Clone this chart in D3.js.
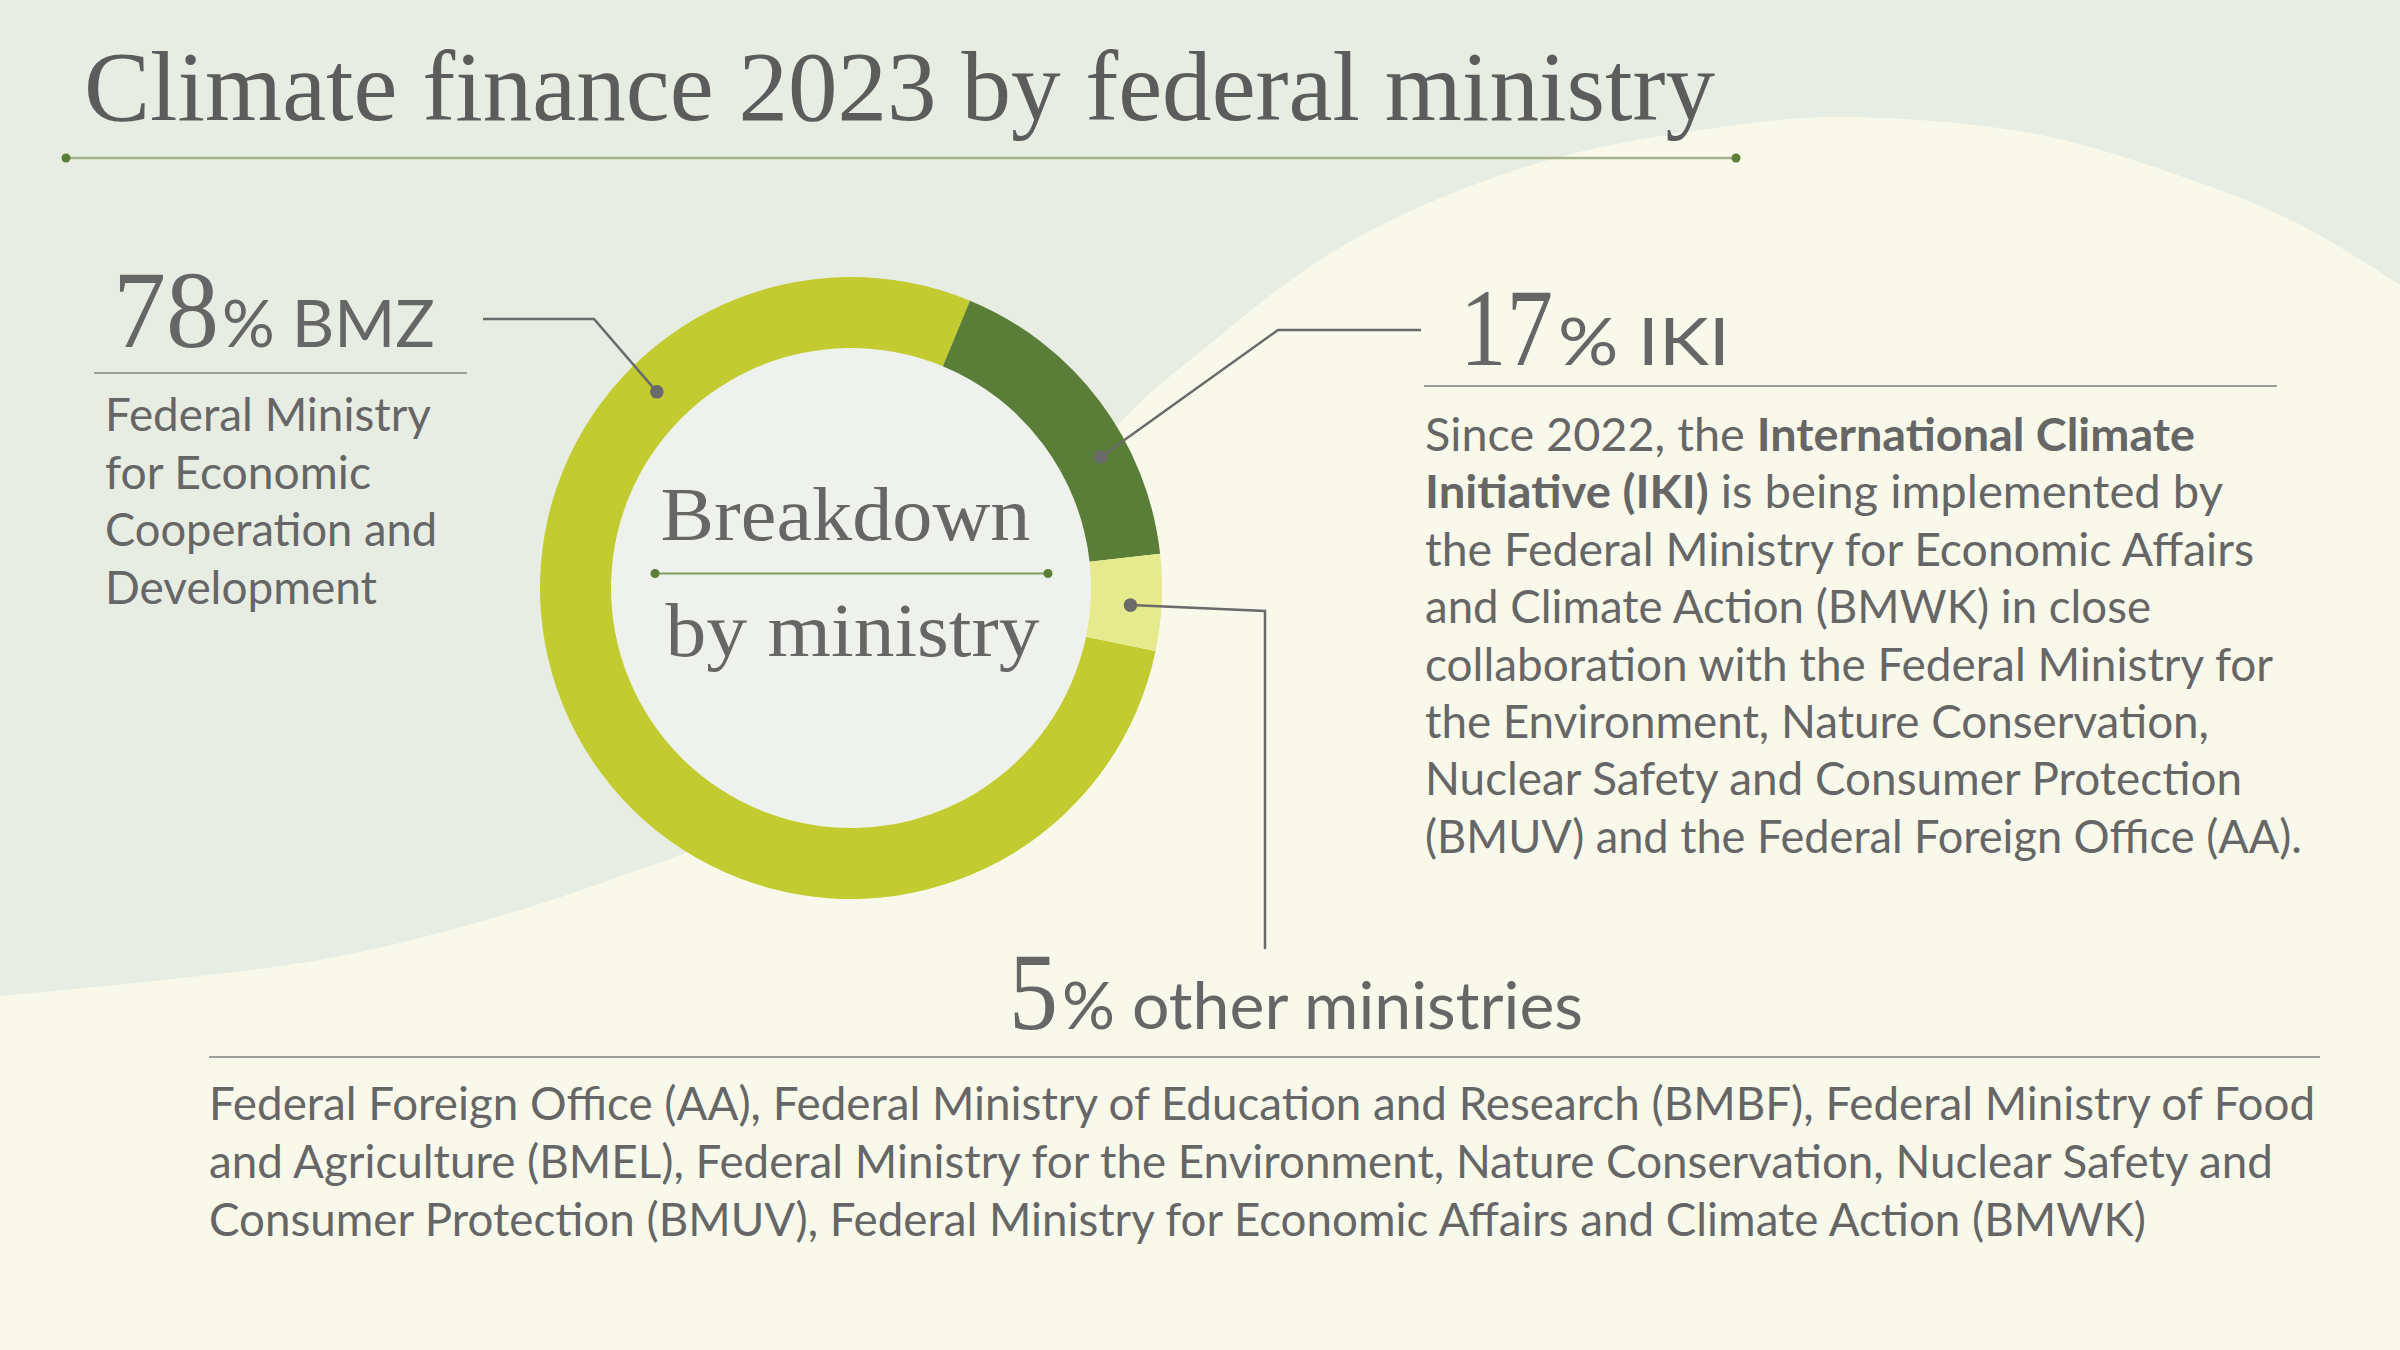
<!DOCTYPE html>
<html><head><meta charset="utf-8">
<script src="https://cdn.jsdelivr.net/npm/d3@7"></script>
<style>body{margin:0;background:#e7ede3}svg{display:block}</style>
</head><body><svg id="c" width="2400" height="1350"></svg>
<script>
// ---------- data ----------
const title = "Climate finance 2023 by federal ministry";
const ministries = ["BMZ", "IKI", "other ministries"];
const shares = [78, 17, 5];
const pctLabels = ["78", "17", "5"];
const nameLabels = ["% BMZ", "% IKI", "% other ministries"];
const centerTitle = ["Breakdown", "by ministry"];
const bmzText = ["Federal Ministry", "for Economic", "Cooperation and", "Development"];
const ikiText = [
  [["Since 2022, the ", false], ["International Climate", true]],
  [["Initiative (IKI)", true], [" is being implemented by", false]],
  [["the Federal Ministry for Economic Affairs", false]],
  [["and Climate Action (BMWK) in close", false]],
  [["collaboration with the Federal Ministry for", false]],
  [["the Environment, Nature Conservation,", false]],
  [["Nuclear Safety and Consumer Protection", false]],
  [["(BMUV) and the Federal Foreign Office (AA).", false]]
];
const otherText = [
  "Federal Foreign Office (AA), Federal Ministry of Education and Research (BMBF), Federal Ministry of Food",
  "and Agriculture (BMEL), Federal Ministry for the Environment, Nature Conservation, Nuclear Safety and",
  "Consumer Protection (BMUV), Federal Ministry for Economic Affairs and Climate Action (BMWK)"
];
// background boundary between the two tones
const bgCurve = [[0,996],[319,960],[510,913],[638,870],[686,852],[800,789],[900,699],[1000,579],[1118,425],[1200,352],[1346,244],[1538,163],[1729,126],[1838,117],[2030,133],[2183,177],[2297,223],[2400,285]];

// ---------- styles ----------
const SERIF = "'Liberation Serif', 'DejaVu Serif', serif";
const SANS = "Lato, 'Noto Sans', sans-serif";
const TXT = "#666666";
const sliceColor = {"BMZ": "#c2cb2f", "IKI": "#5a7d37", "other ministries": "#e5ea8c"};

const svg = d3.select("#c");
svg.append("rect").attr("width", 2400).attr("height", 1350).attr("fill", "#e7ede3");
svg.append("path")
  .attr("d", d3.line().curve(d3.curveCatmullRom.alpha(0.5))(bgCurve) + "L2400,1350L0,1350Z")
  .attr("fill", "#f8f9eb");

function txt(x, y, s, family, size, width, opts = {}) {
  const t = svg.append("text").attr("x", x).attr("y", y)
    .attr("font-family", family).attr("font-size", size).attr("fill", opts.fill || TXT)
    .attr("text-anchor", opts.anchor || "start").text(s);
  if (width) t.attr("textLength", width).attr("lengthAdjust", "spacingAndGlyphs");
  return t;
}
function rule(x1, x2, y, color, w) {
  svg.append("line").attr("x1", x1).attr("x2", x2).attr("y1", y).attr("y2", y)
    .attr("stroke", color).attr("stroke-width", w);
}
function dot(x, y, r, c) { svg.append("circle").attr("cx", x).attr("cy", y).attr("r", r).attr("fill", c); }

// ---------- title ----------
txt(84, 120, title, SERIF, 100, 1631, {fill: "#5c5c5c"});
rule(66, 1736, 158, "#a2b38e", 2.5);
dot(66, 158, 4.5, "#5b7f38"); dot(1736, 158, 4.5, "#5b7f38");

// ---------- donut ----------
const cx = 851, cy = 588, rIn = 240, rOut = 311;
const g = svg.append("g").attr("transform", `translate(${cx},${cy})`);
g.append("circle").attr("r", rIn).attr("fill", "#eff2ec");
const rad = d => d * Math.PI / 180;
const pie = d3.pie().sort(null).value(d => d.v).startAngle(rad(101.7)).endAngle(rad(461.7));
const arc = d3.arc().innerRadius(rIn).outerRadius(rOut);
const arcs = pie(ministries.map((m, i) => ({m, v: shares[i]})));
g.selectAll("path.slice").data(arcs).join("path").attr("class", "slice")
  .attr("d", arc).attr("fill", d => sliceColor[d.data.m]);

// center text
txt(845.5, 540, centerTitle[0], SERIF, 76, 370, {anchor: "middle"});
rule(655, 1048, 573.5, "#7f9c64", 2);
dot(655, 573.5, 4.5, "#5b7f38"); dot(1048, 573.5, 4.5, "#5b7f38");
txt(852.5, 656, centerTitle[1], SERIF, 76, 374, {anchor: "middle"});

// ---------- leaders ----------
const leaderAngle = {"BMZ": [315.3, 276], "IKI": [62.3, 282], "other ministries": [93.5, 280]};
const lead = {};
ministries.forEach(m => {
  const [a, r] = leaderAngle[m];
  lead[m] = [cx + r * Math.sin(rad(a)), cy - r * Math.cos(rad(a))];
});
const LC = "#6a6a6a";
function poly(pts) {
  svg.append("path").attr("d", d3.line()(pts)).attr("fill", "none").attr("stroke", LC).attr("stroke-width", 2.5);
}
poly([[483, 319], [594, 319], lead["BMZ"]]);
poly([[1421, 330], [1278, 330], lead["IKI"]]);
poly([lead["other ministries"], [1265, 611], [1265, 949]]);
ministries.forEach(m => dot(lead[m][0], lead[m][1], 6.8, LC));

// ---------- BMZ block ----------
txt(113, 347, pctLabels[0], SERIF, 110, 106);
txt(222, 347, nameLabels[0], SANS, 65, 213);
rule(94, 467, 373, "#9d9d9a", 2);
const bmzW = [326, 266, 332, 272];
bmzText.forEach((s, i) => txt(105, 431 + i * 57.5, s, SANS, 46, bmzW[i]));

// ---------- IKI block ----------
txt(1460, 365, pctLabels[1], SERIF, 110, 93);
txt(1558, 365, nameLabels[1], SANS, 65, 172);
rule(1424, 2277, 386, "#9d9d9a", 2);
const ikiW = [770, 798, 829, 726, 848, 784, 817, 877];
ikiText.forEach((segs, i) => {
  const t = svg.append("text").attr("x", 1425).attr("y", 451 + i * 57.4)
    .attr("font-family", SANS).attr("font-size", 46).attr("fill", TXT)
    .attr("textLength", ikiW[i]).attr("lengthAdjust", "spacingAndGlyphs");
  segs.forEach(([s, b]) => t.append("tspan").attr("font-weight", b ? 700 : 400).text(s));
});

// ---------- other ministries block ----------
txt(1009, 1029, pctLabels[2], SERIF, 110, 49);
txt(1062, 1029, nameLabels[2], SANS, 65, 521);
rule(209, 2320, 1057, "#9d9d9a", 2);
const otherW = [2106, 2064, 1937];
otherText.forEach((s, i) => txt(209, 1120 + i * 57.8, s, SANS, 46, otherW[i]));
</script></body></html>
